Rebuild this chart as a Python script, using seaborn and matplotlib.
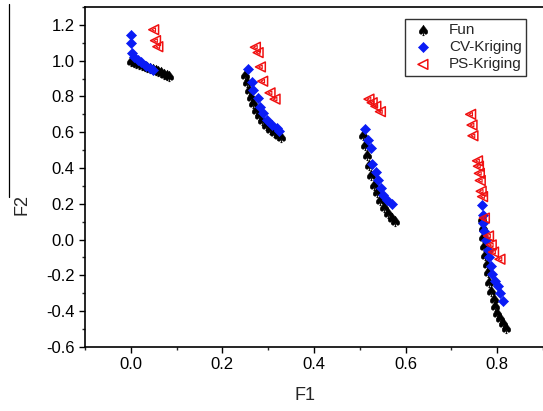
import matplotlib
matplotlib.use("Agg")
import matplotlib.pyplot as plt
from matplotlib.lines import Line2D
from matplotlib.ticker import MultipleLocator
import seaborn as sns
import pandas as pd

# Fun (true Pareto front)
fun_f1 = [0.000, 0.006, 0.012, 0.018, 0.024, 0.030, 0.036, 0.042, 0.048, 0.054, 0.060, 0.066, 0.072, 0.078, 0.083,
          0.249, 0.254, 0.258, 0.262, 0.267, 0.273, 0.280, 0.286, 0.295, 0.304, 0.312, 0.321, 0.328,
          0.508, 0.512, 0.516, 0.521, 0.525, 0.531, 0.538, 0.544, 0.553, 0.562, 0.570, 0.577,
          0.766, 0.768, 0.770, 0.772, 0.774, 0.777, 0.781, 0.783, 0.787, 0.792, 0.796, 0.800, 0.807, 0.813, 0.820]
fun_f2 = [1.000, 0.993, 0.987, 0.981, 0.975, 0.969, 0.963, 0.957, 0.951, 0.946, 0.940, 0.934, 0.928, 0.922, 0.917,
          0.922, 0.883, 0.838, 0.799, 0.765, 0.726, 0.698, 0.670, 0.642, 0.620, 0.603, 0.587, 0.575,
          0.587, 0.531, 0.475, 0.419, 0.363, 0.307, 0.263, 0.223, 0.184, 0.151, 0.123, 0.106,
          0.117, 0.067, 0.017, -0.034, -0.084, -0.134, -0.184, -0.235, -0.285, -0.330, -0.374, -0.408, -0.441, -0.469, -0.492]

# CV-Kriging
cv_f1 = [0.000, 0.000, 0.002, 0.007, 0.015, 0.022, 0.033, 0.043, 0.048,
         0.256, 0.265, 0.267, 0.278, 0.282, 0.289, 0.297, 0.308, 0.319, 0.323,
         0.512, 0.518, 0.525, 0.527, 0.535, 0.540, 0.547, 0.551, 0.560, 0.571,
         0.766, 0.768, 0.770, 0.772, 0.775, 0.780, 0.783, 0.786, 0.789, 0.796, 0.802, 0.806, 0.813]
cv_f2 = [1.145, 1.100, 1.045, 1.020, 1.005, 0.990, 0.970, 0.960, 0.950,
         0.955, 0.883, 0.838, 0.793, 0.743, 0.709, 0.670, 0.642, 0.626, 0.609,
         0.620, 0.559, 0.514, 0.425, 0.380, 0.335, 0.290, 0.251, 0.223, 0.196,
         0.195, 0.140, 0.095, 0.050, 0.000, -0.060, -0.100, -0.150, -0.190, -0.230, -0.260, -0.300, -0.345]

# PS-Kriging
ps_f1 = [0.050, 0.054, 0.059,
         0.272, 0.278, 0.283, 0.288, 0.304, 0.315,
         0.520, 0.527, 0.535, 0.545,
         0.742, 0.745, 0.747, 0.757, 0.759, 0.761, 0.763, 0.765, 0.768, 0.772, 0.781, 0.787, 0.792, 0.806]
ps_f2 = [1.173, 1.112, 1.078,
         1.075, 1.045, 0.965, 0.885, 0.820, 0.785,
         0.785, 0.765, 0.745, 0.715,
         0.700, 0.640, 0.580, 0.440, 0.410, 0.370, 0.330, 0.270, 0.240, 0.120, 0.020, -0.030, -0.070, -0.110]

x_ticks = [0.0, 0.2, 0.4, 0.6, 0.8]
y_ticks = [-0.6, -0.4, -0.2, 0.0, 0.2, 0.4, 0.6, 0.8, 1.0, 1.2]

sns.set_style("ticks")
plt.rcParams['font.family'] = ['Liberation Sans', 'DejaVu Sans']
plt.rcParams['mathtext.fontset'] = 'dejavusans'

fig = plt.figure(figsize=(5.43, 4.11), dpi=100)
ax = fig.add_axes([0.1565, 0.156, 0.8435, 0.827])

fun_df = pd.DataFrame({"F1": fun_f1, "F2": fun_f2})
cv_df = pd.DataFrame({"F1": cv_f1, "F2": cv_f2})
ps_df = pd.DataFrame({"F1": ps_f1, "F2": ps_f2})

sns.scatterplot(data=fun_df, x="F1", y="F2", ax=ax, marker=r"$\spadesuit$", s=60,
                color="black", edgecolor="black", linewidth=0.3, label="Fun", zorder=2)
sns.scatterplot(data=cv_df, x="F1", y="F2", ax=ax, marker="D", s=26,
                color="#0a1cf5", edgecolor="#0a1cf5", linewidth=0.5, label="CV-Kriging", zorder=3)
sns.scatterplot(data=ps_df, x="F1", y="F2", ax=ax, marker="<", s=50,
                facecolor="none", edgecolor="#f01010", linewidth=1.1, label="PS-Kriging", zorder=4)
# inner small triangle of the PS-Kriging symbol
sns.scatterplot(data=ps_df, x="F1", y="F2", ax=ax, marker="<", s=7,
                facecolor="none", edgecolor="#f01010", linewidth=0.8, legend=False, zorder=4)

ax.set_xlim(-0.1, 0.9)
ax.set_ylim(-0.6, 1.3)
ax.xaxis.set_minor_locator(MultipleLocator(0.1))
ax.yaxis.set_minor_locator(MultipleLocator(0.1))
ax.set_xticks(x_ticks)
ax.set_yticks(y_ticks)
ax.set_xticklabels([f"{v:.1f}" for v in x_ticks])
ax.set_yticklabels([f"{v:.1f}" for v in y_ticks])
ax.tick_params(which="major", direction="out", length=4, width=1, labelsize=12, colors="black")
ax.tick_params(which="minor", direction="out", length=2.5, width=1)
for side in ["left", "bottom", "top"]:
    ax.spines[side].set_linewidth(1.2)
    ax.spines[side].set_color("black")
ax.spines["right"].set_visible(False)

ax.set_xlabel("F1", fontsize=13)
ax.set_ylabel("F2", fontsize=13)
ax.xaxis.set_label_coords(0.48, -0.118)
ax.yaxis.set_label_coords(-0.118, 0.418)

leg = ax.legend(loc="upper right", bbox_to_anchor=(0.98, 0.988), fontsize=11, frameon=True,
                fancybox=False, edgecolor="black", handletextpad=0.8, borderpad=0.3,
                labelspacing=0.2, handlelength=1.8)
leg.get_frame().set_linewidth(1.0)

# thin stray line at the left edge of the original picture
fig.add_artist(Line2D([0.017, 0.017], [0.52, 0.99], transform=fig.transFigure, color="black", linewidth=0.9))

fig.savefig("out.png", dpi=100)
